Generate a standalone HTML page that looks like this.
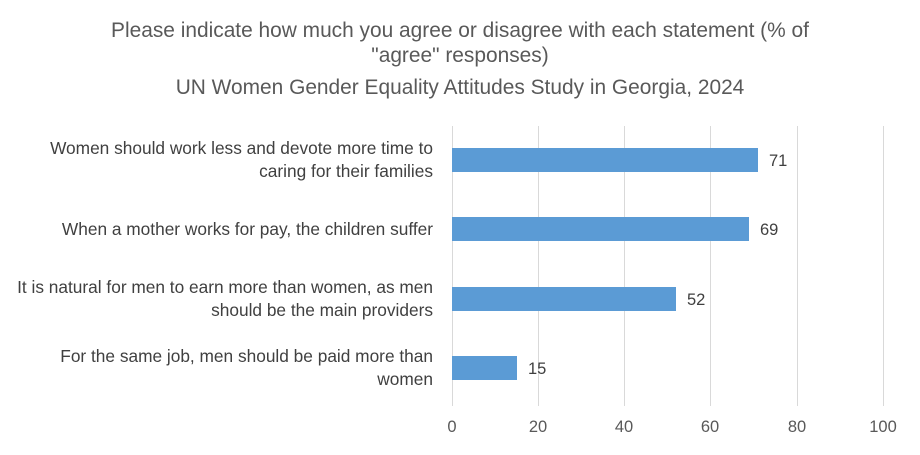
<!DOCTYPE html>
<html><head><meta charset="utf-8"><style>
body{margin:0;background:#fff;}
svg text{font-family:"Liberation Sans",sans-serif;fill:#595959;}
</style></head><body>
<svg width="920" height="450" xmlns="http://www.w3.org/2000/svg">
<rect width="920" height="450" fill="#fff"/>
<g font-size="20.9" text-anchor="middle">
<text x="460" y="37">Please indicate how much you agree or disagree with each statement (% of</text>
<text x="460" y="62">"agree" responses)</text>
<text x="460" y="94">UN Women Gender Equality Attitudes Study in Georgia, 2024</text>
</g>
<g stroke="#d9d9d9" stroke-width="1">
<line x1="452.5" y1="126" x2="452.5" y2="406"/>
<line x1="538.5" y1="126" x2="538.5" y2="406"/>
<line x1="624.5" y1="126" x2="624.5" y2="406"/>
<line x1="710.5" y1="126" x2="710.5" y2="406"/>
<line x1="797.5" y1="126" x2="797.5" y2="406"/>
<line x1="883.5" y1="126" x2="883.5" y2="406"/>
</g>
<g fill="#5b9bd5">
<rect x="452" y="148" width="306" height="24"/>
<rect x="452" y="217" width="297" height="24"/>
<rect x="452" y="287" width="224" height="24"/>
<rect x="452" y="356" width="65" height="24"/>
</g>
<g font-size="16.5" fill="#404040">
<text x="769" y="166" style="fill:#404040">71</text>
<text x="760" y="235" style="fill:#404040">69</text>
<text x="687" y="305" style="fill:#404040">52</text>
<text x="528" y="374" style="fill:#404040">15</text>
</g>
<g font-size="17.3" text-anchor="end">
<text x="433" y="154" style="fill:#404040">Women should work less and devote more time to</text>
<text x="433" y="177" style="fill:#404040">caring for their families</text>
<text x="433" y="235" style="fill:#404040">When a mother works for pay, the children suffer</text>
<text x="433" y="293" style="fill:#404040">It is natural for men to earn more than women, as men</text>
<text x="433" y="316" style="fill:#404040">should be the main providers</text>
<text x="433" y="362" style="fill:#404040">For the same job, men should be paid more than</text>
<text x="433" y="385" style="fill:#404040">women</text>
</g>
<g font-size="16.5" text-anchor="middle">
<text x="452" y="432">0</text>
<text x="538" y="432">20</text>
<text x="624" y="432">40</text>
<text x="710" y="432">60</text>
<text x="797" y="432">80</text>
<text x="883" y="432">100</text>
</g>
</svg>
</body></html>
